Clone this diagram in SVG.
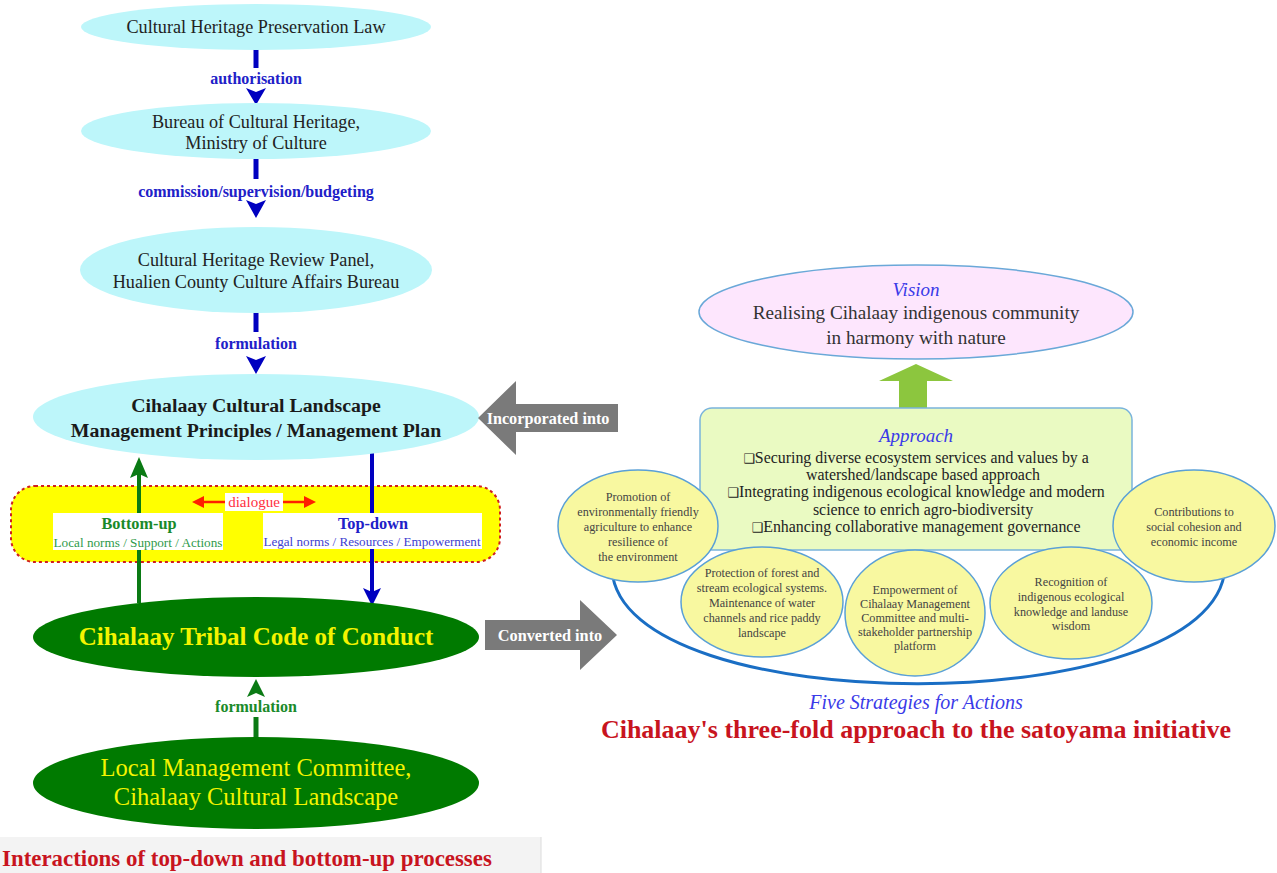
<svg xmlns="http://www.w3.org/2000/svg" width="1277" height="873" viewBox="0 0 1277 873">
<style>
.serif{font-family:"Liberation Serif","Times New Roman",serif}
.cyan{fill:#bdf6fa}
.lt{font-size:18.2px;fill:#222;text-anchor:middle}
.lbl{font-size:16px;font-weight:bold;fill:#2020c8;text-anchor:middle}
.yel{fill:#f8f8a0;stroke:#5aa0d6;stroke-width:1.5}
.yt{font-size:12.2px;fill:#444;text-anchor:middle}
.gt{fill:#f4f400;text-anchor:middle}
.apt{font-size:15.9px;fill:#222;text-anchor:middle}
.box{font-family:"DejaVu Sans",sans-serif;font-size:13px}
.ital{font-style:italic;fill:#3a3ae8;text-anchor:middle}
</style>
<rect width="1277" height="873" fill="#ffffff"/>
<g id="caption-left-bg"><rect x="0" y="837" width="541" height="36" fill="#f3f3f3"/><line x1="541" y1="837" x2="541" y2="873" stroke="#dcdcdc"/></g>

<g id="connectors">
  <line x1="256" y1="48" x2="256" y2="68" stroke="#0000c0" stroke-width="5"/>
  <path d="M246,88 L256,92 L266,88 L256,105 Z" fill="#0000c0"/>
  <line x1="256" y1="159" x2="256" y2="179" stroke="#0000c0" stroke-width="5"/>
  <path d="M246,200 L256,204 L266,200 L256,218 Z" fill="#0000c0"/>
  <line x1="256" y1="312" x2="256" y2="332" stroke="#0000c0" stroke-width="5"/>
  <path d="M246,356 L256,360 L266,356 L256,374 Z" fill="#0000c0"/>
  <line x1="256" y1="717" x2="256" y2="739" stroke="#0a7a14" stroke-width="5"/>
  <path d="M247,697 L256,693 L265,697 L256,679 Z" fill="#0a7a14"/>
</g>

<g id="dialogue-band">
  <rect x="11" y="486" width="489" height="76" rx="24" fill="#ffff00" stroke="#d02020" stroke-width="2" stroke-dasharray="3,3"/>
</g>

<g id="vertical-arrows">
  <line x1="139" y1="603" x2="139" y2="474" stroke="#0a7a14" stroke-width="4"/>
  <path d="M130,478 L139,474 L148,478 L139,457 Z" fill="#0a7a14"/>
  <line x1="372" y1="453" x2="372" y2="592" stroke="#0000c0" stroke-width="4"/>
  <path d="M363,588 L372,592 L381,588 L372,606 Z" fill="#0000c0"/>
</g>

<g id="bottom-up">
  <rect x="53" y="513" width="170" height="37" fill="#ffffff"/>
  <text class="serif" x="139" y="529" font-size="16.3" font-weight="bold" fill="#1a8a2a" text-anchor="middle">Bottom-up</text>
  <text class="serif" x="138" y="547" font-size="13.2" fill="#2e9a4a" text-anchor="middle">Local norms / Support / Actions</text>
</g>
<g id="top-down">
  <rect x="263" y="513" width="219" height="36" fill="#ffffff"/>
  <text class="serif" x="373" y="529" font-size="16.3" font-weight="bold" fill="#2020c8" text-anchor="middle">Top-down</text>
  <text class="serif" x="372" y="546" font-size="13.1" fill="#4040d0" text-anchor="middle">Legal norms / Resources / Empowerment</text>
</g>
<g id="dialogue">
  <line x1="200" y1="502" x2="308" y2="502" stroke="#ff2000" stroke-width="2.5"/>
  <path d="M192,502 L204,496 L204,508 Z" fill="#ff2000"/>
  <path d="M316,502 L304,496 L304,508 Z" fill="#ff2000"/>
  <rect x="225" y="493" width="58" height="18" fill="#ffffff"/>
  <text class="serif" x="254" y="507" font-size="15" fill="#ff3040" text-anchor="middle">dialogue</text>
</g>

<g id="n-law">
  <ellipse class="cyan" cx="256" cy="27" rx="175" ry="23"/>
  <text class="serif lt" x="256" y="33">Cultural Heritage Preservation Law</text>
</g>
<text class="serif lbl" x="256" y="84">authorisation</text>
<g id="n-bureau">
  <ellipse class="cyan" cx="256" cy="131" rx="175" ry="28"/>
  <text class="serif lt" x="256" y="128">Bureau of Cultural Heritage,</text>
  <text class="serif lt" x="256" y="149">Ministry of Culture</text>
</g>
<text class="serif lbl" x="256" y="197">commission/supervision/budgeting</text>
<g id="n-panel">
  <ellipse class="cyan" cx="256" cy="270" rx="176" ry="43"/>
  <text class="serif lt" x="256" y="266">Cultural Heritage Review Panel,</text>
  <text class="serif lt" x="256" y="288">Hualien County Culture Affairs Bureau</text>
</g>
<text class="serif lbl" x="256" y="349">formulation</text>
<g id="n-plan">
  <ellipse class="cyan" cx="256" cy="417" rx="223" ry="43"/>
  <text class="serif" x="256" y="412" font-size="19.8" font-weight="bold" fill="#1a1a1a" text-anchor="middle">Cihalaay Cultural Landscape</text>
  <text class="serif" x="256" y="437" font-size="19.8" font-weight="bold" fill="#1a1a1a" text-anchor="middle">Management Principles / Management Plan</text>
</g>
<g id="n-code">
  <ellipse cx="256" cy="637" rx="223" ry="40" fill="#007a00"/>
  <text class="serif gt" x="256" y="645" font-size="25" font-weight="bold">Cihalaay Tribal Code of Conduct</text>
</g>
<text class="serif" x="256" y="712" font-size="16" font-weight="bold" fill="#1a8a2a" text-anchor="middle">formulation</text>
<g id="n-committee">
  <ellipse cx="256" cy="783" rx="223" ry="46" fill="#007a00"/>
  <text class="serif gt" x="256" y="776" font-size="24.5">Local Management Committee,</text>
  <text class="serif gt" x="256" y="805" font-size="24.5">Cihalaay Cultural Landscape</text>
</g>
<text id="caption-left" class="serif" x="2" y="866" font-size="22.9" font-weight="bold" fill="#c8141e">Interactions of top-down and bottom-up processes</text>

<g id="incorporated-arrow">
  <path d="M478,418 L516,381 L516,404 L618,404 L618,432 L516,432 L516,455 Z" fill="#7a7a7a"/>
  <text class="serif" x="548" y="424" font-size="16.2" font-weight="bold" fill="#ffffff" text-anchor="middle">Incorporated into</text>
</g>
<g id="converted-arrow">
  <path d="M485,620 L580,620 L580,600 L617,635 L580,670 L580,650 L485,650 Z" fill="#7a7a7a"/>
  <text class="serif" x="550" y="641" font-size="16.3" font-weight="bold" fill="#ffffff" text-anchor="middle">Converted into</text>
</g>

<g id="vision">
  <ellipse cx="916" cy="312" rx="217" ry="47" fill="#fde6fd" stroke="#6aa8d8" stroke-width="1.5"/>
  <text class="serif ital" x="916" y="296" font-size="19">Vision</text>
  <text class="serif" x="916" y="319" font-size="19.2" fill="#333" text-anchor="middle">Realising Cihalaay indigenous community</text>
  <text class="serif" x="916" y="344" font-size="19.2" fill="#333" text-anchor="middle">in harmony with nature</text>
</g>
<g id="green-up-arrow">
  <path d="M916,364 L953,381 L927,381 L927,409 L899,409 L899,381 L879,381 Z" fill="#8cc63e"/>
</g>
<g id="approach">
  <rect x="700" y="408" width="432" height="142" rx="12" fill="#eafac2" stroke="#7ab4dc" stroke-width="1.5"/>
  <text class="serif ital" x="916" y="442" font-size="19">Approach</text>
  <text class="serif apt" x="916" y="463"><tspan class="box">❑</tspan>Securing diverse ecosystem services and values by a</text>
  <text class="serif apt" x="923" y="480">watershed/landscape based approach</text>
  <text class="serif apt" x="916" y="497"><tspan class="box">❑</tspan>Integrating indigenous ecological knowledge and modern</text>
  <text class="serif apt" x="923" y="515">science to enrich agro-biodiversity</text>
  <text class="serif apt" x="916" y="532"><tspan class="box">❑</tspan>Enhancing collaborative management governance</text>
</g>
<g id="strategies-arc">
  <path d="M612,570 C622,722 1215,722 1225,568" fill="none" stroke="#1a6ec4" stroke-width="3"/>
</g>
<g id="s1">
  <ellipse class="yel" cx="638" cy="526" rx="80" ry="56"/>
  <text class="serif yt" x="638" y="501">Promotion of</text>
  <text class="serif yt" x="638" y="516">environmentally friendly</text>
  <text class="serif yt" x="638" y="531">agriculture to enhance</text>
  <text class="serif yt" x="638" y="546">resilience of</text>
  <text class="serif yt" x="638" y="561">the environment</text>
</g>
<g id="s2">
  <ellipse class="yel" cx="762" cy="602" rx="81" ry="55"/>
  <text class="serif yt" x="762" y="577">Protection of forest and</text>
  <text class="serif yt" x="762" y="592">stream ecological systems.</text>
  <text class="serif yt" x="762" y="607">Maintenance of water</text>
  <text class="serif yt" x="762" y="622">channels and rice paddy</text>
  <text class="serif yt" x="762" y="637">landscape</text>
</g>
<g id="s3">
  <ellipse class="yel" cx="915" cy="613" rx="70" ry="63"/>
  <text class="serif yt" x="915" y="594">Empowerment of</text>
  <text class="serif yt" x="915" y="608">Cihalaay Management</text>
  <text class="serif yt" x="915" y="622">Committee and multi-</text>
  <text class="serif yt" x="915" y="636">stakeholder partnership</text>
  <text class="serif yt" x="915" y="650">platform</text>
</g>
<g id="s4">
  <ellipse class="yel" cx="1071" cy="603" rx="81" ry="56"/>
  <text class="serif yt" x="1071" y="586">Recognition of</text>
  <text class="serif yt" x="1071" y="601">indigenous ecological</text>
  <text class="serif yt" x="1071" y="616">knowledge and landuse</text>
  <text class="serif yt" x="1071" y="630">wisdom</text>
</g>
<g id="s5">
  <ellipse class="yel" cx="1194" cy="526" rx="81" ry="56"/>
  <text class="serif yt" x="1194" y="516">Contributions to</text>
  <text class="serif yt" x="1194" y="531">social cohesion and</text>
  <text class="serif yt" x="1194" y="546">economic income</text>
</g>
<text class="serif ital" x="916" y="709" font-size="20">Five Strategies for Actions</text>
<text id="caption-right" class="serif" x="916" y="738" font-size="26" font-weight="bold" fill="#c8141e" text-anchor="middle">Cihalaay's three-fold approach to the satoyama initiative</text>
</svg>
